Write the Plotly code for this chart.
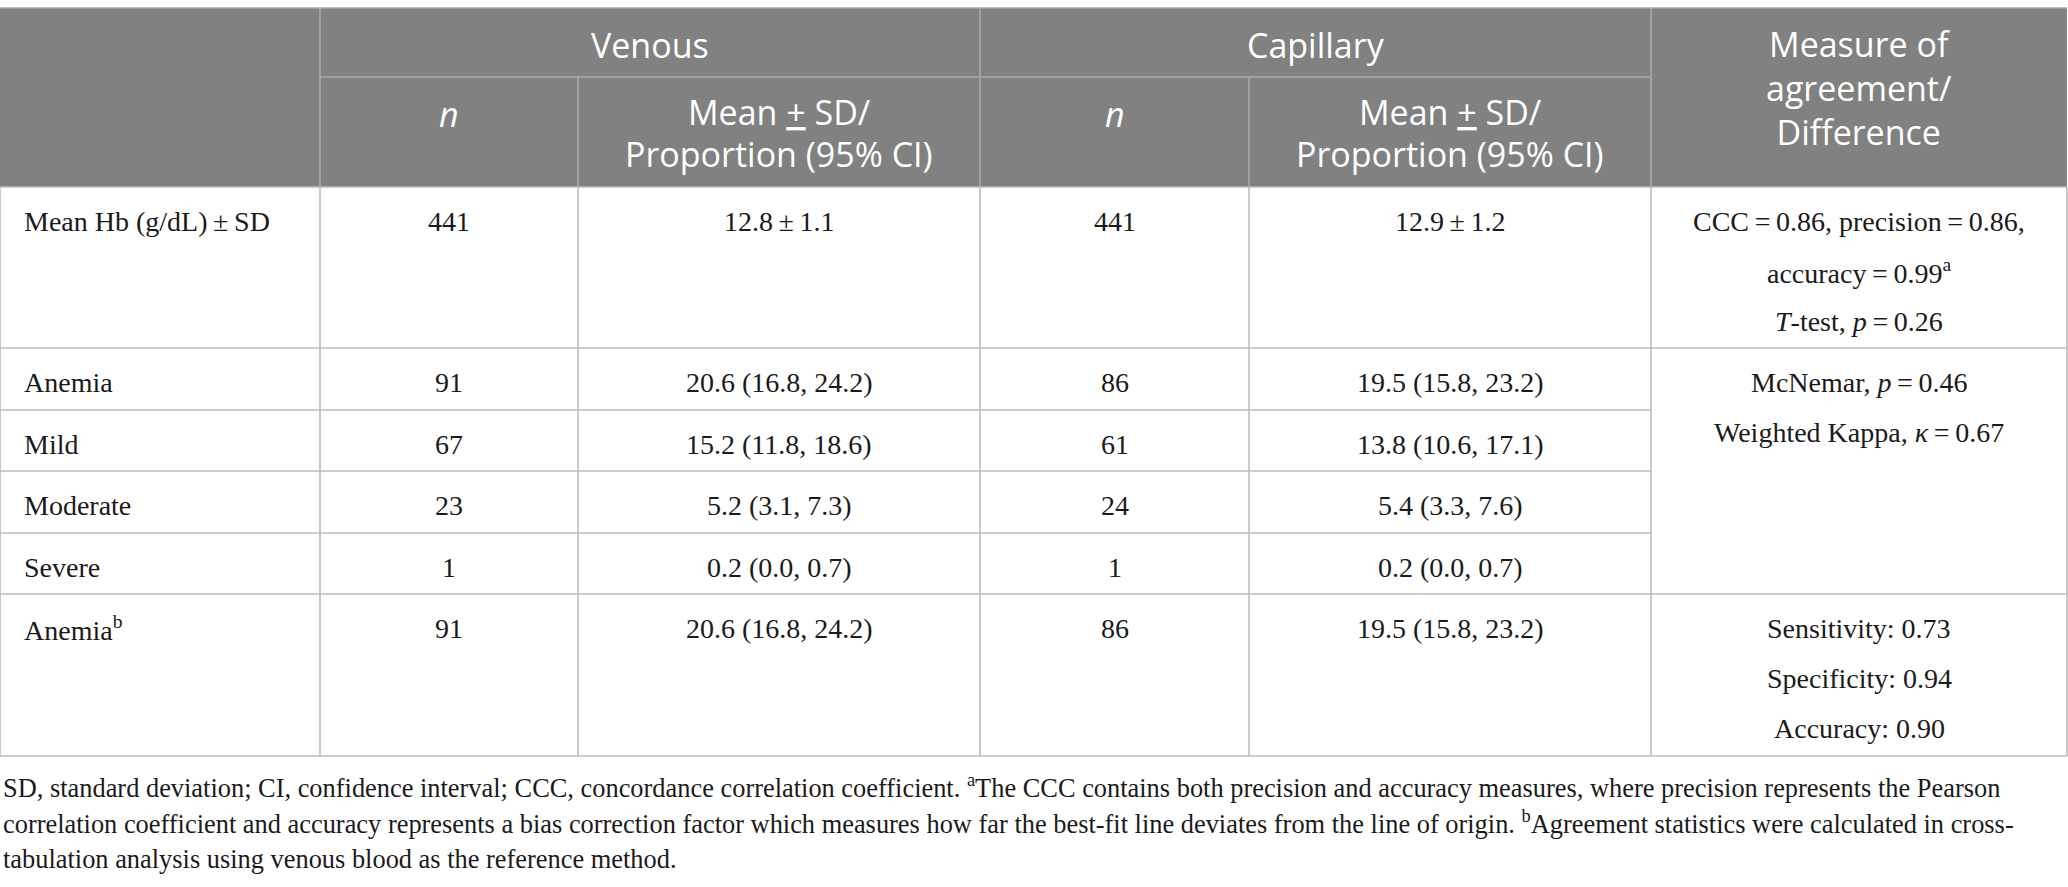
import plotly.graph_objects as go

# ---- table content ----
group_labels = ["Venous", "Capillary"]
sub_labels = ["<i>n</i>", "Mean <u>+</u> SD/<br>Proportion (95% CI)"]
measure_label = "Measure of<br>agreement/<br>Difference"

row_labels = ["Mean Hb (g/dL)\u2009±\u2009SD", "Anemia", "Mild", "Moderate", "Severe",
              "Anemia<sup>b</sup>"]
venous_n = [441, 91, 67, 23, 1, 91]
venous_stat = ["12.8\u2009±\u20091.1", "20.6 (16.8, 24.2)", "15.2 (11.8, 18.6)",
               "5.2 (3.1, 7.3)", "0.2 (0.0, 0.7)", "20.6 (16.8, 24.2)"]
capillary_n = [441, 86, 61, 24, 1, 86]
capillary_stat = ["12.9\u2009±\u20091.2", "19.5 (15.8, 23.2)", "13.8 (10.6, 17.1)",
                  "5.4 (3.3, 7.6)", "0.2 (0.0, 0.7)", "19.5 (15.8, 23.2)"]

# measure-of-agreement cells: (first row, last row, lines)
agreement_rows = [(0, 0), (1, 4), (5, 5)]
agreement_text = [
    ["CCC\u2009=\u20090.86, precision\u2009=\u20090.86,", "accuracy\u2009=\u20090.99<sup>a</sup>",
     "<i>T</i>-test, <i>p</i>\u2009=\u20090.26"],
    ["McNemar, <i>p</i>\u2009=\u20090.46", "Weighted Kappa, <i>κ</i>\u2009=\u20090.67"],
    ["Sensitivity: 0.73", "Specificity: 0.94", "Accuracy: 0.90"],
]

footnote = [
    "SD, standard deviation; CI, confidence interval; CCC, concordance correlation coefficient. "
    "<sup>a</sup>The CCC contains both precision and accuracy measures, where precision represents the Pearson",
    "correlation coefficient and accuracy represents a bias correction factor which measures how far "
    "the best-fit line deviates from the line of origin. <sup>b</sup>Agreement statistics were calculated in cross-",
    "tabulation analysis using venous blood as the reference method.",
]

# ---- layout (pixels) ----
W, H = 2068, 887
col_edges = [0, 320, 578, 980, 1249, 1651, 2067]
head_top, head_mid, head_bot = 8, 77, 187
row_edges = [187, 348, 410, 471, 533, 594, 756]
line_gap = 50
first_line = 34

HEAD_BG = "#808180"
HEAD_LINE = "#a9aaa9"
BODY_LINE = "#bdbdbd"
TEXT = "#1a1a1a"
SANS = "Open Sans"
SERIF = "Liberation Serif"

fig = go.Figure()
shapes = []
ann = []


def hline(y, x0, x1, color):
    shapes.append(dict(type="line", x0=x0, x1=x1, y0=y, y1=y,
                       line=dict(color=color, width=1.6)))


def vline(x, y0, y1, color):
    shapes.append(dict(type="line", x0=x, x1=x, y0=y0, y1=y1,
                       line=dict(color=color, width=1.6)))


def cx(i, j=None):
    j = i if j is None else j
    return (col_edges[i] + col_edges[j + 1]) / 2


def text(x, y, s, size, family, color=TEXT, anchor="center"):
    ann.append(dict(x=x, y=y, text=s, showarrow=False, xanchor=anchor, yanchor="middle",
                    align=anchor, font=dict(size=size, family=family, color=color)))


# header block
shapes.append(dict(type="rect", x0=col_edges[0], x1=col_edges[-1], y0=head_top, y1=head_bot,
                   fillcolor=HEAD_BG, line=dict(width=0), layer="below"))
hline(head_top, col_edges[0], col_edges[-1], HEAD_LINE)
hline(head_mid, col_edges[1], col_edges[5], HEAD_LINE)
for k in (1, 3, 5):
    vline(col_edges[k], head_top, head_bot, HEAD_LINE)
for k in (2, 4):
    vline(col_edges[k], head_mid, head_bot, HEAD_LINE)

for g, lab in enumerate(group_labels):
    text(cx(1 + 2 * g, 2 + 2 * g), 45, lab, 34, SANS, "white")
    text(cx(1 + 2 * g), 114, sub_labels[0], 34, SANS, "white")
    for k, part in enumerate(sub_labels[1].split("<br>")):
        text(cx(2 + 2 * g), 112 + 42 * k, part, 34, SANS, "white")
text(cx(5), 88, measure_label, 34, SANS, "white")

# body grid
merged = set()
for a, b in agreement_rows:
    merged.update(range(a + 1, b + 1))
for r, y in enumerate(row_edges):
    right = col_edges[5] if r in merged else col_edges[-1]
    hline(y, col_edges[0], right, BODY_LINE)
for x in col_edges:
    vline(x, row_edges[0], row_edges[-1], BODY_LINE)

# body text
for r in range(len(row_labels)):
    y = row_edges[r] + first_line
    text(22, y, row_labels[r], 28, SERIF, anchor="left")
    text(cx(1), y, str(venous_n[r]), 28, SERIF)
    text(cx(2), y, venous_stat[r], 28, SERIF)
    text(cx(3), y, str(capillary_n[r]), 28, SERIF)
    text(cx(4), y, capillary_stat[r], 28, SERIF)

for (a, b), lines in zip(agreement_rows, agreement_text):
    for k, s in enumerate(lines):
        text(cx(5), row_edges[a] + first_line + line_gap * k, s, 28, SERIF)

# footnote
for k, s in enumerate(footnote):
    text(1, 786 + 36.5 * k, s, 26.4, SERIF, anchor="left")

fig.update_layout(
    width=W, height=H,
    margin=dict(l=0, r=0, t=0, b=0),
    paper_bgcolor="white", plot_bgcolor="white",
    xaxis=dict(range=[0, W], visible=False, fixedrange=True),
    yaxis=dict(range=[H, 0], visible=False, fixedrange=True),
    shapes=shapes, annotations=ann, showlegend=False,
)

# drop the default page margin so the figure sits at the window's corner
fig.write_html("out.html", config={"displayModeBar": False},
               post_script="document.body.style.margin='0';")
